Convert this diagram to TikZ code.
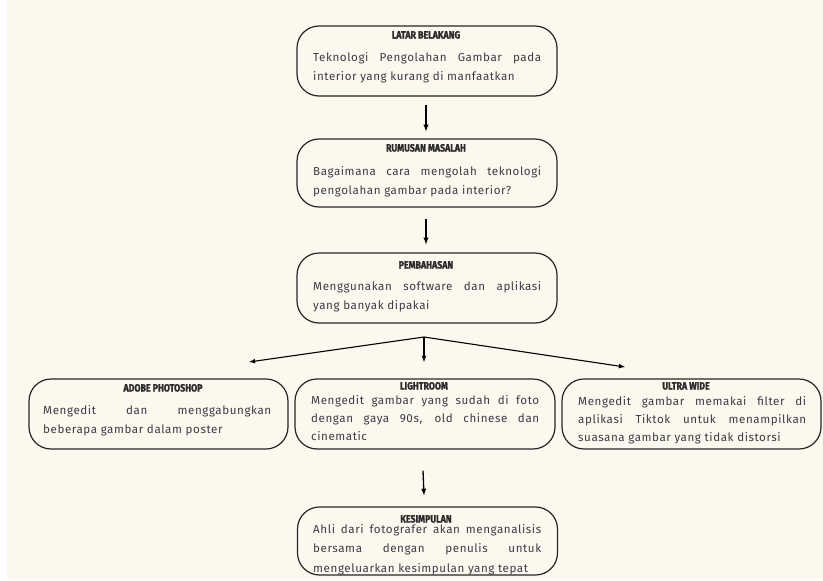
\documentclass[tikz,border=0pt]{standalone}
\usepackage{fontspec}
\setmainfont{Fira Sans}[LetterSpace=5]
\newfontfamily\titlefont[FakeStretch=0.84,FakeBold=1.5]{Fira Sans}
\usetikzlibrary{arrows.meta,positioning}
\definecolor{cream}{HTML}{FDF8EE}
\definecolor{inkbody}{HTML}{3C3A46}
\definecolor{inktitle}{HTML}{2B2B2B}
\tikzstyle{flow box}=[draw=black!85,line width=1.2pt,rounded corners=22pt,minimum height=70pt,minimum width=260pt,inner sep=0pt]
\tikzstyle{box title}=[font=\titlefont\bfseries\fontsize{10.5}{11}\selectfont,text=inktitle,inner sep=0pt,anchor=base]
\tikzstyle{box text}=[font=\fontsize{11.6}{19.5}\selectfont,text=inkbody,text width=228pt,align=justify,inner sep=0pt,anchor=base west]
\tikzstyle{flow arrow}=[->,>=latex,line width=1.3pt]
\hyphenpenalty=10000
\tolerance=10000

\begin{document}
\begin{tikzpicture}[x=1pt,y=-1pt]

    \fill[white] (0,0) rectangle (823,581);
    \fill[cream] (7,0) rectangle (823,579);

    % latar belakang
    \node[flow box] (latar) at (427,61) {};
    \node[box title] (latar title) at (426,38.5) {LATAR BELAKANG};
    \node[box text] (latar text) at (313,61) {Teknologi Pengolahan Gambar pada\linebreak interior yang kurang di manfaatkan};

    % rumusan masalah
    \node[flow box,minimum height=68pt] (rumusan) at (427,173) {};
    \node[box title] (rumusan title) at (426,151.5) {RUMUSAN MASALAH};
    \node[box text] (rumusan text) at (313,175) {Bagaimana cara mengolah teknologi\linebreak pengolahan gambar pada interior?};

    % pembahasan
    \node[flow box] (bahas) at (427,288) {};
    \node[box title] (bahas title) at (426,268.5) {PEMBAHASAN};
    \node[box text] (bahas text) at (313,290) {Menggunakan software dan aplikasi\linebreak yang banyak dipakai};

    % tiga aplikasi
    \node[flow box,minimum width=259pt] (photoshop) at (158.5,414) {};
    \node[box title] (photoshop title) at (163,391.5) {ADOBE PHOTOSHOP};
    \node[box text] (photoshop text) at (43,414) {Mengedit dan menggabungkan\linebreak beberapa gambar dalam poster};

    \node[flow box] (lightroom) at (425,414) {};
    \node[box title] (lightroom title) at (424,389.5) {LIGHTROOM};
    \node[box text,font=\fontsize{11.6}{18}\selectfont] (lightroom text) at (311,404) {Mengedit gambar yang sudah di foto\linebreak dengan gaya 90s, old chinese dan\linebreak cinematic};

    \node[flow box,minimum width=259pt] (ultra) at (691.5,414) {};
    \node[box title] (ultra title) at (686,389.5) {ULTRA WIDE};
    \node[box text,font=\fontsize{11.6}{18}\selectfont] (ultra text) at (578,405) {Mengedit gambar memakai filter di\linebreak aplikasi Tiktok untuk menampilkan\linebreak suasana gambar yang tidak distorsi};

    % kesimpulan
    \node[flow box,minimum height=68pt] (simpul) at (427.5,541) {};
    \node[box title] (simpul title) at (426,522.5) {KESIMPULAN};
    \node[box text] (simpul text) at (313,533) {Ahli dari fotografer akan menganalisis\linebreak bersama dengan penulis untuk\linebreak mengeluarkan kesimpulan yang tepat};

    % panah
    \draw[flow arrow] ([xshift=-1pt,yshift=-8pt]latar.south) -- ([xshift=-1pt,yshift=7pt]rumusan.north);
    \draw[flow arrow] ([xshift=-1pt,yshift=-11pt]rumusan.south) -- ([xshift=-1pt,yshift=8pt]bahas.north);

    \coordinate (split) at (424,337);
    \coordinate (to photoshop) at (249,362);
    \coordinate (to lightroom) at (424,362);
    \coordinate (to ultra) at (625,367);
    \draw[flow arrow,line width=1.1pt] (split) -- (to photoshop);
    \draw[flow arrow,line width=1.1pt] (split) -- (to lightroom);
    \draw[flow arrow,line width=1.1pt] (split) -- (to ultra);

    \draw[flow arrow] ([xshift=-2pt,yshift=-21pt]lightroom.south) -- ([xshift=-3.5pt,yshift=11pt]simpul.north);

\end{tikzpicture}
\end{document}
